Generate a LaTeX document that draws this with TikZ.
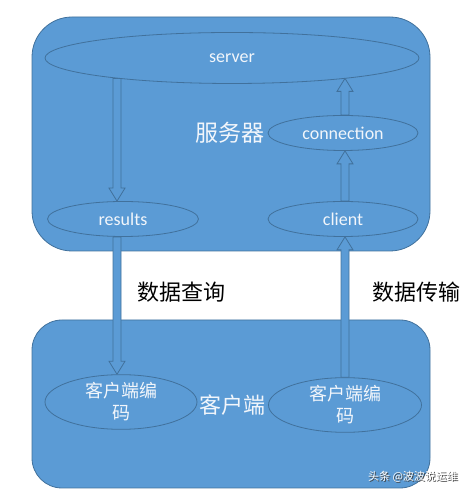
\documentclass[tikz,border=0pt]{standalone}
\usepackage{fontspec}
\setmainfont{Carlito}
\newfontfamily\cjk{Noto Sans CJK SC}
\usetikzlibrary{shapes.geometric,calc,backgrounds}
\definecolor{baseblue}{HTML}{5B9BD5}
\definecolor{edgeblue}{HTML}{41719C}
\definecolor{softwhite}{HTML}{F2F6FB}

\begin{document}
\begin{tikzpicture}[x=1pt, y=1pt,
    box/.style={draw=edgeblue, fill=baseblue, line width=0.8pt},
    oval/.style={ellipse, draw=edgeblue, fill=baseblue, line width=0.8pt, inner sep=0pt,
      text=softwhite, align=center, font=\fontsize{18}{20}\selectfont},
    cjkoval/.style={oval, font=\cjk\fontsize{18}{22}\selectfont},
    blockarrow/.style={draw=edgeblue, fill=baseblue, line width=0.8pt, line join=miter,
      to path={let \p1=($(\tikztotarget)!13pt!(\tikztostart)$) in
        ($(\tikztostart)!4pt!90:(\tikztotarget)$)
        -- ($(\p1)!4pt!90:(\tikztotarget)$) -- ($(\p1)!8pt!90:(\tikztotarget)$)
        -- (\tikztotarget)
        -- ($(\p1)!8pt!-90:(\tikztotarget)$) -- ($(\p1)!4pt!-90:(\tikztotarget)$)
        -- ($(\tikztostart)!4pt!-90:(\tikztotarget)$) -- cycle}},
  ]
  \useasboundingbox (0,0) rectangle (475,494);

  % Ovals of the server side
  \node[oval, minimum width=374pt, minimum height=51pt] (server) at (232,436) {server};
  \node[oval, minimum width=150pt, minimum height=35pt] (connection) at (343,361) {connection};
  \node[oval, minimum width=151pt, minimum height=35pt] (results) at (123,275) {results};
  \node[oval, minimum width=150pt, minimum height=35pt] (client) at (343,275) {client};

  % Ovals of the client side
  \node[cjkoval, minimum width=152pt, minimum height=45pt] (codeleft) at (121,92) {客户端编\\码};
  \node[cjkoval, minimum width=153pt, minimum height=45pt] (coderight) at (345,89) {客户端编\\码};

  \begin{scope}[on background layer]
    % Draw the two boxes
    \draw[box, rounded corners=40pt] (32,243) rectangle (430,477);
    \draw[box, rounded corners=30pt] (32,6) rectangle (430,174);

    % Data query goes down
    \draw[blockarrow] ([xshift=-6pt]results.north |- server.-170) to ([xshift=-6pt]results.north);
    \draw[blockarrow] ([xshift=-6pt]results.south) to ([xshift=-6pt]results.south |- codeleft.north);

    % Data transfer goes up
    \draw[blockarrow] (coderight.north) to (coderight.north |- client.south);
    \draw[blockarrow] (coderight.north |- client.north) to (coderight.north |- connection.south);
    \draw[blockarrow] (coderight.north |- connection.north) to (coderight.north |- server.-10);
  \end{scope}

  % Labels
  \node[text=softwhite, font=\cjk\fontsize{23}{25}\selectfont] (serverlabel) at (230,361) {服务器};
  \node[text=softwhite, font=\cjk\fontsize{22}{24}\selectfont] (clientlabel) at (232,89) {客户端};
  \node[font=\cjk\fontsize{22}{24}\selectfont] (querylabel) at (181,202) {数据查询};
  \node[font=\cjk\fontsize{22}{24}\selectfont] (transferlabel) at (416,202) {数据传输};
  \node[text=black!75, font=\cjk\fontsize{11}{13}\selectfont] (markshadow) at (414,16) {头条 @波波说运维};
  \node[text=white, font=\cjk\fontsize{11}{13}\selectfont] (mark) at (413,17) {头条 @波波说运维};
\end{tikzpicture}
\end{document}
